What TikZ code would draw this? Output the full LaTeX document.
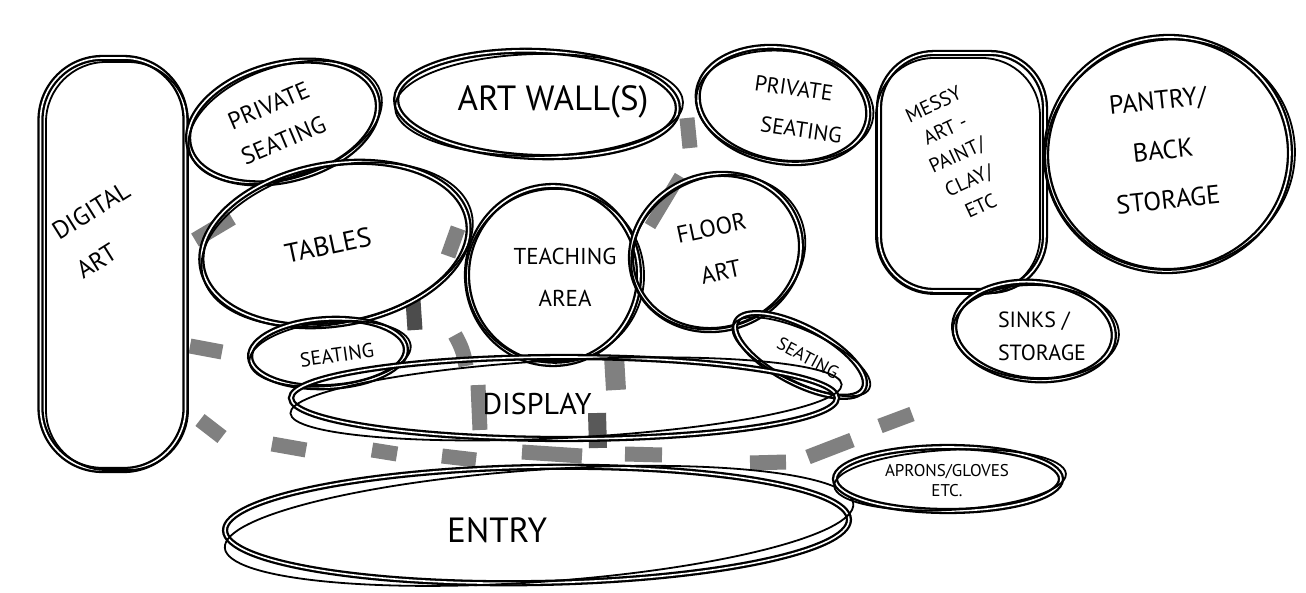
\documentclass[tikz,border=0pt]{standalone}
\usepackage{fontspec}
\setmainfont{PT Sans}
\usetikzlibrary{shapes.geometric}
\newcommand\fs[2]{\fontsize{#1}{#2}\selectfont}
\tikzset{
  bub/.style={draw=black, line width=2.3pt, double=white, double distance=1.6pt, inner sep=0pt, outer sep=0pt},
  sk/.style={draw=black, line width=1.8pt},
  lbl/.style={inner sep=0pt, align=center, text=black},
  gdash/.style={draw=black!50, line width=15pt, line cap=butt},
}
\newcommand\bubel[6]{%
  \node[bub, ellipse, minimum width=2*#4, minimum height=2*#5, rotate=#6] (#1) at (#2,#3) {};
  \draw[sk, rotate around={#6+3:(#2,#3)}] (#2+2,#3+1) ellipse [x radius=#4+3, y radius=#5-2];
}
\begin{document}
\begin{tikzpicture}[x=1pt,y=-1pt]
\path[use as bounding box, fill=white] (0,0) rectangle (1306,593);

% circulation marks
\draw[gdash] (195,240) -- (232,218);
\draw[gdash] (448,256) -- (458,228);
\draw[gdash, draw=black!70] (413,300) -- (415,330);
\draw[gdash] (455,335) to[bend left=10] (466,366);
\draw[gdash] (478,385) -- (480,430);
\draw[gdash] (190,346) -- (222,352);
\draw[gdash] (200,420) -- (222,437);
\draw[gdash] (272,444) -- (306,450);
\draw[gdash] (372,450) -- (397,454);
\draw[gdash] (442,456) -- (476,460);
\draw[gdash] (522,452) -- (582,456);
\draw[gdash] (625,454) -- (662,455);
\draw[gdash] (750,463) -- (786,462);
\draw[gdash] (808,457) -- (852,440);
\draw[gdash] (880,426) -- (912,414);
\draw[gdash, line width=20pt] (614,356) -- (616,390);
\draw[gdash, line width=18pt, draw=black!65] (597,413) -- (598,448);
\draw[gdash] (687,118) -- (690,148);
\draw[gdash, line width=12pt] (680,176) -- (650,226);

% bubbles
\node[bub, rectangle, rounded corners=62pt, minimum width=145, minimum height=412] (digital) at (113,264) {};
\draw[sk, rounded corners=60] (46,62) rectangle (188,470);
\node[bub, rectangle, rounded corners=55pt, minimum width=166, minimum height=238] (messy) at (962,172) {};
\draw[sk, rounded corners=58] (876,58) rectangle (1040,294);

\bubel{privL}{283}{122}{97}{58}{15}
\bubel{walls}{537}{104}{141}{53}{-2}
\bubel{privR}{783}{105}{86}{57}{-10}
\bubel{pantry}{1168}{154}{122}{117}{5}
\bubel{sinks}{1034}{331}{80}{49}{-5}
\bubel{tables}{335}{244}{135}{80}{10}
\bubel{teach}{553}{275}{86}{89}{0}
\bubel{floor}{716}{252}{86}{77}{20}
\bubel{seatL}{328}{353}{78}{34}{3}
\bubel{seatR}{800}{355}{72}{28}{-28}
\bubel{display}{564}{398}{273}{41}{0}
\bubel{entry}{537}{525}{312}{58}{1}
\bubel{aprons}{948}{479}{113}{32}{0}

% labels
\node[lbl, rotate=32, align=left, font=\fs{25}{46}] (digital-t) at (103,230) {DIGITAL\\ART};
\node[lbl, rotate=23, font=\fs{24}{38}] (privL-t) at (276,123) {PRIVATE\\SEATING};
\node[lbl, font=\fs{35}{40}] (walls-t) at (553,102) {ART WALL(S)};
\node[lbl, rotate=-8, font=\fs{22}{40}] (privR-t) at (791,108) {PRIVATE\\\hspace*{1.2em}SEATING};
\node[lbl, rotate=12, font=\fs{27}{30}] (tables-t) at (328,245) {TABLES};
\node[lbl, font=\fs{23}{42}] (teach-t) at (565,277) {TEACHING\\AREA};
\node[lbl, rotate=12, font=\fs{24}{45}] (floor-t) at (716,250) {FLOOR\\ART};
\node[lbl, rotate=25, font=\fs{20}{28}] (messy-t) at (957,155) {MESSY\\ART -\\PAINT/\\CLAY/\\ETC};
\node[lbl, rotate=6, font=\fs{26}{50}] (pantry-t) at (1163,150) {PANTRY/\\BACK\\STORAGE};
\node[lbl, align=left, font=\fs{22}{33}] (sinks-t) at (1042,336) {SINKS /\\STORAGE};
\node[lbl, rotate=8, font=\fs{20}{24}] (seatL-t) at (337,355) {SEATING};
\node[lbl, rotate=-28, font=\fs{18}{20}] (seatR-t) at (808,358) {SEATING};
\node[lbl, font=\fs{30}{34}] (display-t) at (537,404) {DISPLAY};
\node[lbl, font=\fs{35}{40}] (entry-t) at (497,530) {ENTRY};
\node[lbl, font=\fs{17}{20}] (aprons-t) at (947,481) {APRONS/GLOVES\\ETC.};
\end{tikzpicture}
\end{document}
